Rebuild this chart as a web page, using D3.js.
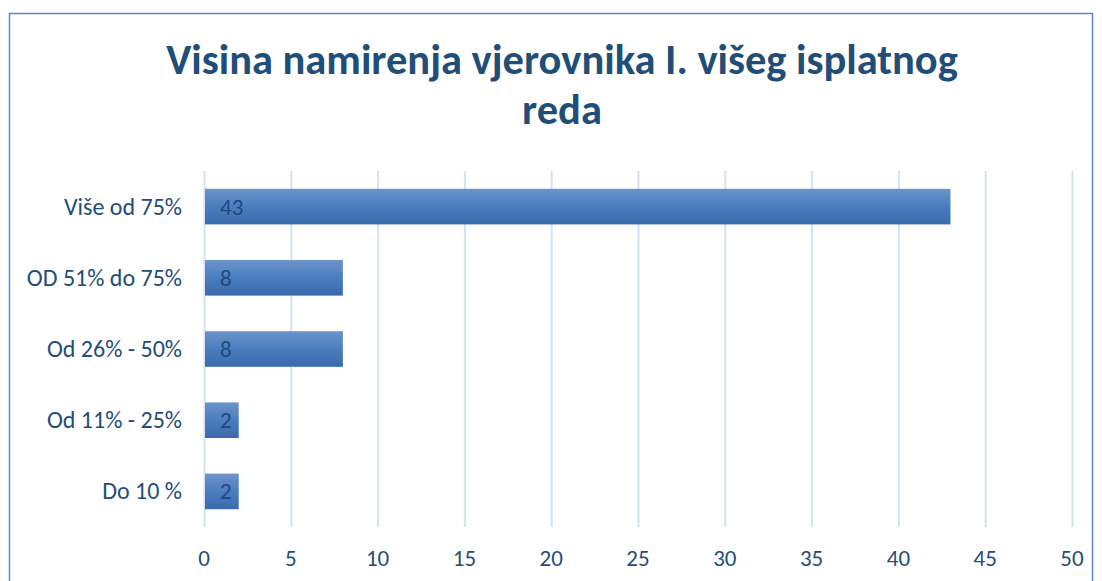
<!DOCTYPE html>
<html lang="hr">
<head>
<meta charset="utf-8">
<title>Visina namirenja vjerovnika</title>
<script src="https://cdn.jsdelivr.net/npm/d3@7"></script>
<style>
  body { margin: 0; background: #fff; }
  svg text { font-family: Carlito, Lato, "Open Sans", sans-serif; fill: #1F4E79; }
  .grid line { stroke: #D5E2F2; stroke-width: 2; }
  .grid path { display: none; }
</style>
</head>
<body>
<script>
// categories, top to bottom
var categories = ["Više od 75%", "OD 51% do 75%", "Od 26% - 50%", "Od 11% - 25%", "Do 10 %"];
var values = [43, 8, 8, 2, 2];
var xTicks = [0, 5, 10, 15, 20, 25, 30, 35, 40, 45, 50];
var titleLines = ["Visina namirenja vjerovnika I. višeg isplatnog", "reda"];

var w = 1102, h = 581;
var plotLeft = 204, plotRight = 1072, plotTop = 171, plotBottom = 527;

var svg = d3.select("body").append("svg")
  .attr("width", w)
  .attr("height", h);

// chart border
svg.append("rect")
  .attr("x", 9.5).attr("y", 13.5)
  .attr("width", 1083).attr("height", 600)
  .attr("fill", "none")
  .attr("stroke", "#5B87C5")
  .attr("stroke-width", 1.5);

var defs = svg.append("defs");
var grad = defs.append("linearGradient")
  .attr("id", "barGrad")
  .attr("x1", 0).attr("y1", 0).attr("x2", 0).attr("y2", 1);
grad.append("stop").attr("offset", "0%").attr("stop-color", "#6C94CA");
grad.append("stop").attr("offset", "50%").attr("stop-color", "#4A7DBF");
grad.append("stop").attr("offset", "100%").attr("stop-color", "#3A6AAC");

var xScale = d3.scaleLinear()
  .domain([0, 50])
  .range([plotLeft, plotRight]);

var yScale = d3.scaleBand()
  .domain(categories)
  .range([plotTop, plotBottom])
  .paddingInner(0.5)
  .paddingOuter(0.25);

// vertical gridlines
svg.append("g")
  .attr("class", "grid")
  .attr("transform", "translate(0," + plotBottom + ")")
  .call(d3.axisBottom(xScale).tickValues(xTicks).tickSize(-(plotBottom - plotTop)).tickFormat(""));

// x tick labels
svg.append("g")
  .selectAll("text")
  .data(xTicks)
  .enter()
  .append("text")
  .attr("x", function(d) { return xScale(d); })
  .attr("y", 566)
  .attr("text-anchor", "middle")
  .style("font-size", "23px")
  .text(function(d) { return d; });

// bars
svg.selectAll("rect.bar")
  .data(values)
  .enter()
  .append("rect")
  .attr("class", "bar")
  .attr("x", xScale(0) + 1)
  .attr("y", function(d, i) { return yScale(categories[i]); })
  .attr("width", function(d) { return xScale(d) - xScale(0) - 1; })
  .attr("height", yScale.bandwidth())
  .attr("fill", "url(#barGrad)");

// value labels
svg.selectAll("text.val")
  .data(values)
  .enter()
  .append("text")
  .attr("class", "val")
  .attr("x", xScale(0) + 16)
  .attr("y", function(d, i) { return yScale(categories[i]) + yScale.bandwidth() / 2 + 8; })
  .style("font-size", "23px")
  .style("fill", "#1F4A7A")
  .text(function(d) { return d; });

// category labels
svg.selectAll("text.cat")
  .data(categories)
  .enter()
  .append("text")
  .attr("class", "cat")
  .attr("x", 182)
  .attr("y", function(d) { return yScale(d) + yScale.bandwidth() / 2 + 8; })
  .attr("text-anchor", "end")
  .style("font-size", "24px")
  .text(function(d) { return d; });

// title
var title = svg.append("text")
  .attr("text-anchor", "middle")
  .style("font-size", "42.5px")
  .style("font-weight", "bold");
title.selectAll("tspan")
  .data(titleLines)
  .enter()
  .append("tspan")
  .attr("x", 562)
  .attr("y", function(d, i) { return 74 + i * 50; })
  .text(function(d) { return d; });
</script>
</body>
</html>
